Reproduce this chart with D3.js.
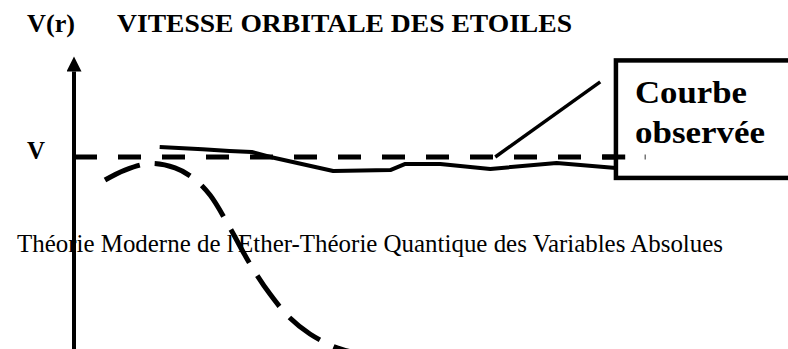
<!DOCTYPE html>
<html>
<head>
<meta charset="utf-8">
<script src="https://cdn.jsdelivr.net/npm/d3@7"></script>
<style>
html,body{margin:0;padding:0;background:#fff;}
svg{display:block;}
text{font-family:"Liberation Serif","Times New Roman",Times,serif;}
</style>
</head>
<body>
<svg id="chart" width="788" height="349"></svg>
<script>
// ---- data ----
const title = "VITESSE ORBITALE DES ETOILES";
const yAxisTitle = "V(r)";
const vLabel = "V";
const annotationLines = ["Courbe", "observée"];
const watermark = "Théorie Moderne de l'Ether-Théorie Quantique des Variables Absolues";

// observed rotation curve (r, v)
const observedR = [1.20, 1.80, 2.18, 2.49, 2.75, 3.63, 4.43, 4.64, 5.13, 5.83, 6.76, 7.59];
const observedV = [1.052, 1.040, 1.031, 1.026, 1.0, 0.927, 0.932, 0.964, 0.964, 0.938, 0.969, 0.943];

// keplerian / expected curve (r, v)
const keplerR = [0.434, 0.714, 1.064, 1.415, 1.667, 1.905, 2.185, 2.465, 2.745, 3.025, 3.305, 3.655, 3.894];
const keplerV = [0.880, 0.932, 0.966, 0.943, 0.891, 0.802, 0.630, 0.443, 0.286, 0.161, 0.078, 0.010, -0.016];

// constant velocity V line
const constR = [0, 7.72];
const constV = [1, 1];

// ---- scales ----
const svg = d3.select("#chart");
const x = d3.scaleLinear().domain([0, 10]).range([74, 788]);
const y = d3.scaleLinear().domain([0, 1]).range([349, 157]);

// vertical axis with arrow
svg.append("defs").append("marker")
  .attr("id", "arrow").attr("viewBox", "0 0 16 16").attr("refX", 0).attr("refY", 8)
  .attr("markerWidth", 16).attr("markerHeight", 15).attr("markerUnits", "userSpaceOnUse")
  .attr("orient", "auto")
  .append("path").attr("d", "M0,0 L16,8 L0,16 Z").attr("fill", "#000");

svg.append("line")
  .attr("x1", x(0)).attr("x2", x(0))
  .attr("y1", y(-0.02)).attr("y2", y(1.445))
  .attr("stroke", "#000").attr("stroke-width", 4)
  .attr("marker-end", "url(#arrow)");

const line = d3.line().x(d => x(d[0])).y(d => y(d[1]));

// watermark text (drawn beneath curves)
svg.append("text")
  .attr("x", 17).attr("y", 252)
  .attr("font-size", 24.5)
  .attr("textLength", 706).attr("lengthAdjust", "spacingAndGlyphs")
  .attr("fill", "#000")
  .text(watermark);

// dashed V line
svg.append("path")
  .datum(d3.zip(constR, constV))
  .attr("d", line)
  .attr("fill", "none").attr("stroke", "#000").attr("stroke-width", 5)
  .attr("stroke-dasharray", "23,21");

// keplerian dashed curve
svg.append("path")
  .datum(d3.zip(keplerR, keplerV))
  .attr("d", d3.line().x(d => x(d[0])).y(d => y(d[1])).curve(d3.curveCatmullRom))
  .attr("fill", "none").attr("stroke", "#000").attr("stroke-width", 5)
  .attr("stroke-dasharray", "38,15");

// observed curve
svg.append("path")
  .datum(d3.zip(observedR, observedV))
  .attr("d", line)
  .attr("fill", "none").attr("stroke", "#000").attr("stroke-width", 4)
  .attr("stroke-linejoin", "round");

// leader line to annotation
svg.append("line")
  .attr("x1", x(5.90)).attr("y1", y(1.0))
  .attr("x2", x(7.37)).attr("y2", y(1.391))
  .attr("stroke", "#000").attr("stroke-width", 3.5);

// annotation box
svg.append("rect")
  .attr("x", x(7.59)).attr("y", y(1.503))
  .attr("width", x(10.3) - x(7.59)).attr("height", y(0.891) - y(1.503))
  .attr("fill", "#fff").attr("stroke", "#000").attr("stroke-width", 4.5);

// last dash of the V line overlaps the box border
svg.append("line")
  .attr("x1", x(7.40)).attr("x2", x(7.72)).attr("y1", y(1)).attr("y2", y(1))
  .attr("stroke", "#000").attr("stroke-width", 5);

// stray tick
svg.append("line")
  .attr("x1", x(8.0)).attr("x2", x(8.0)).attr("y1", y(1.013)).attr("y2", y(0.987))
  .attr("stroke", "#555").attr("stroke-width", 1.2);

function boldText(px, py, size, len, str) {
  svg.append("text").attr("x", px).attr("y", py)
    .attr("font-weight", "bold")
    .attr("font-size", size).attr("textLength", len).attr("lengthAdjust", "spacingAndGlyphs")
    .text(str);
}

boldText(635, 103, 32, 112, annotationLines[0]);
boldText(635, 143, 32, 130, annotationLines[1]);
boldText(27, 32, 24.5, 48, yAxisTitle);
boldText(117, 32, 24.5, 455, title);
boldText(27, 159, 24.5, 18, vLabel);
</script>
</body>
</html>
